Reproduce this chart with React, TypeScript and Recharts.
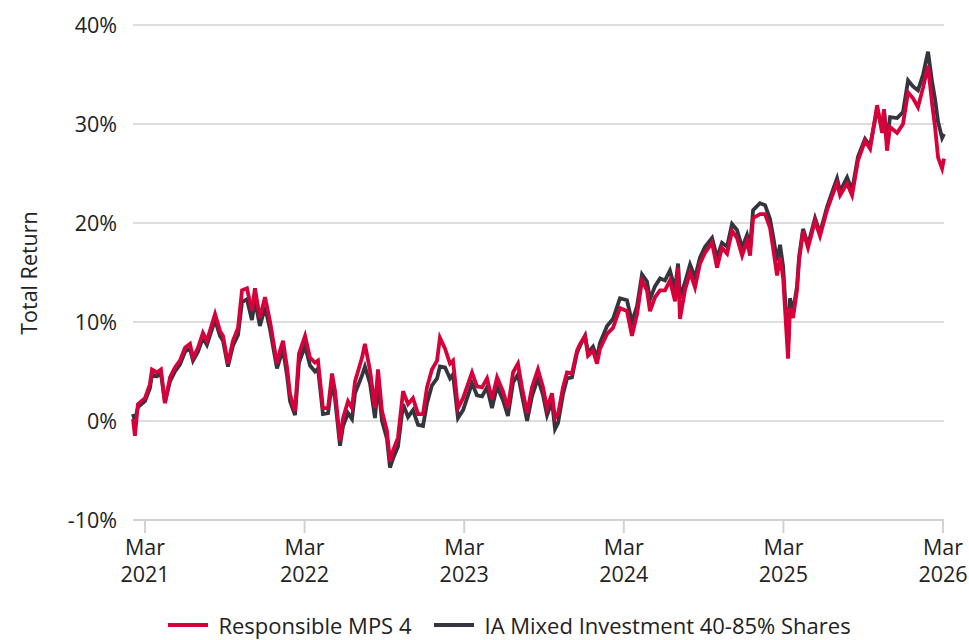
import { LineChart, Line, XAxis, YAxis, CartesianGrid, Legend, Label } from 'recharts';

// time as fractional years
const dates = [
  2021.092, 2021.104, 2021.123, 2021.167, 2021.198, 2021.211, 2021.242, 2021.267, 2021.292, 2021.324,
  2021.355, 2021.386, 2021.418, 2021.449, 2021.468, 2021.499, 2021.53, 2021.555, 2021.606, 2021.637,
  2021.656, 2021.687, 2021.718, 2021.75, 2021.775, 2021.806, 2021.837, 2021.856, 2021.887, 2021.919,
  2021.95, 2021.994, 2022.013, 2022.032, 2022.057, 2022.076, 2022.107, 2022.132, 2022.17, 2022.201,
  2022.232, 2022.251, 2022.282, 2022.314, 2022.339, 2022.358, 2022.389, 2022.408, 2022.439, 2022.464,
  2022.483, 2022.527, 2022.545, 2022.577, 2022.608, 2022.627, 2022.652, 2022.683, 2022.702, 2022.721,
  2022.752, 2022.784, 2022.815, 2022.846, 2022.878, 2022.909, 2022.934, 2022.965, 2022.997, 2023.015,
  2023.047, 2023.078, 2023.097, 2023.128, 2023.16, 2023.216, 2023.247, 2023.279, 2023.31, 2023.341,
  2023.373, 2023.41, 2023.441, 2023.473, 2023.504, 2023.529, 2023.561, 2023.592, 2023.629, 2023.661,
  2023.686, 2023.717, 2023.736, 2023.755, 2023.786, 2023.811, 2023.842, 2023.874, 2023.893, 2023.924,
  2023.943, 2023.974, 2023.999, 2024.018, 2024.062, 2024.099, 2024.143, 2024.187, 2024.218, 2024.25,
  2024.281, 2024.312, 2024.331, 2024.362, 2024.394, 2024.425, 2024.456, 2024.488, 2024.507, 2024.519,
  2024.55, 2024.582, 2024.613, 2024.644, 2024.676, 2024.72, 2024.751, 2024.782, 2024.814, 2024.845,
  2024.876, 2024.908, 2024.939, 2024.958, 2024.977, 2025.02, 2025.052, 2025.083, 2025.102, 2025.127,
  2025.146, 2025.165, 2025.196, 2025.208, 2025.227, 2025.252, 2025.265, 2025.29, 2025.321, 2025.365,
  2025.396, 2025.44, 2025.478, 2025.503, 2025.522, 2025.566, 2025.597, 2025.634, 2025.678, 2025.71,
  2025.754, 2025.785, 2025.797, 2025.816, 2025.835, 2025.879, 2025.916, 2025.948, 2025.979, 2026.01,
  2026.042, 2026.073, 2026.098, 2026.117, 2026.136, 2026.161, 2026.173,
];

const mps4 = [
  0.2, -1.5, 1.7, 2.3, 3.7, 5.2, 4.9, 5.2, 1.8, 4.4,
  5.4, 6.1, 7.4, 7.8, 6.4, 7.4, 8.9, 8.1, 10.8, 9.1,
  8.6, 5.8, 8.1, 9.4, 13.2, 13.4, 11.1, 13.4, 10.4, 12.5,
  10.1, 5.8, 7.1, 8.1, 5.4, 2.7, 1.0, 6.8, 8.6, 6.4,
  5.9, 6.1, 1.3, 1.3, 4.8, 3.0, -2.0, 0.3, 2.0, 1.3,
  4.0, 6.4, 7.8, 5.1, 1.3, 5.2, 1.0, -1.0, -4.1, -3.0,
  -1.7, 3.0, 1.7, 2.3, 0.7, 0.7, 3.4, 5.2, 6.1, 8.4,
  7.3, 5.8, 6.1, 1.3, 2.3, 4.9, 3.5, 3.4, 4.3, 2.2,
  4.4, 3.0, 1.3, 4.9, 5.8, 3.4, 0.8, 3.4, 5.2, 3.4,
  1.3, 2.8, 0.3, 0.7, 3.4, 4.9, 4.8, 7.1, 7.8, 8.6,
  6.6, 7.1, 5.8, 7.3, 8.8, 9.4, 11.4, 11.1, 8.6, 10.8,
  14.2, 13.2, 11.1, 12.5, 13.2, 13.2, 14.2, 12.1, 15.5, 10.3,
  13.2, 15.0, 13.5, 15.9, 17.0, 18.0, 15.5, 17.5, 16.9, 19.2,
  18.5, 16.7, 18.2, 16.7, 20.5, 20.9, 20.9, 19.5, 17.5, 14.7,
  16.5, 14.5, 6.3, 11.4, 10.4, 13.2, 16.2, 19.2, 17.5, 20.2,
  18.7, 21.3, 23.0, 24.0, 22.8, 24.0, 22.8, 26.3, 28.3, 27.5,
  31.9, 29.1, 31.5, 27.3, 29.7, 29.1, 30.0, 33.2, 32.6, 31.7,
  33.7, 35.9, 32.1, 29.7, 26.6, 25.5, 26.5,
];

const sector = [
  0.7, 0.0, 1.4, 2.0, 3.3, 4.7, 4.5, 4.8, 1.9, 4.0,
  5.0, 5.7, 7.0, 7.3, 6.1, 7.0, 8.4, 7.7, 10.2, 8.6,
  8.1, 5.5, 7.6, 8.7, 12.0, 12.3, 10.2, 12.2, 9.6, 11.5,
  9.3, 5.3, 6.3, 7.2, 4.6, 2.0, 0.6, 5.9, 7.6, 5.6,
  5.0, 5.3, 0.7, 0.8, 3.9, 2.2, -2.5, -0.5, 0.8, 0.2,
  2.8, 4.6, 5.5, 3.8, 0.3, 3.8, 0.0, -1.8, -4.7, -3.8,
  -2.6, 1.7, 0.4, 1.1, -0.4, -0.5, 1.8, 3.6, 4.3, 5.5,
  5.4, 4.3, 4.7, 0.3, 1.1, 3.8, 2.6, 2.5, 3.4, 1.3,
  3.5, 2.1, 0.5, 3.9, 4.7, 2.6, 0.0, 2.5, 4.3, 2.6,
  0.6, 2.0, -0.8, -0.2, 2.7, 4.3, 4.4, 6.9, 7.6, 8.6,
  6.9, 7.5, 6.4, 7.9, 9.6, 10.3, 12.4, 12.2, 10.0, 11.6,
  14.8, 14.1, 12.3, 13.6, 14.4, 14.2, 15.2, 13.3, 15.9, 12.4,
  14.0, 15.8, 14.5, 16.5, 17.6, 18.5, 16.5, 18.0, 17.6, 19.9,
  19.3, 17.5, 18.8, 17.6, 21.3, 22.0, 21.8, 20.4, 18.7, 16.2,
  17.8, 15.6, 7.5, 12.4, 11.0, 13.6, 16.6, 19.4, 17.8, 20.5,
  19.0, 21.6, 23.4, 24.5, 23.2, 24.6, 23.3, 26.7, 28.5, 27.8,
  31.5, 29.6, 31.4, 28.3, 30.7, 30.6, 31.2, 34.4, 33.8, 33.4,
  35.0, 37.3, 34.3, 32.5, 30.2, 28.6, 29.0,
];

const xTicks = [2021.167, 2022.167, 2023.167, 2024.167, 2025.167, 2026.167];
const yTicks = [-10, 0, 10, 20, 30, 40];

const RED = '#d6003a';
const DARK = '#34353f';
const GRID = '#d2d2d2';
const TEXT = '#222222';
const FONT = '"Open Sans", sans-serif';
const FS = 21.5;
const LEGEND_FS = 22;

const data = dates.map((t, i) => ({ t, mps4: mps4[i], sector: sector[i] }));

function MonthTick({ x, y, payload }: any) {
  return (
    <text x={x} y={y} textAnchor="middle" fill={TEXT} fontSize={FS} fontFamily={FONT}>
      <tspan x={x} dy={20}>Mar</tspan>
      <tspan x={x} dy={27}>{Math.floor(payload.value)}</tspan>
    </text>
  );
}

function LegendBox() {
  const item = (color: string, label: string) => (
    <div style={{ display: 'flex', alignItems: 'center', gap: 10 }}>
      <div style={{ width: 40, height: 4, background: color }} />
      <span>{label}</span>
    </div>
  );
  return (
    <div
      style={{
        width: 969,
        height: 40,
        boxSizing: 'border-box',
        paddingLeft: 50,
        paddingBottom: 4,
        display: 'flex',
        justifyContent: 'center',
        alignItems: 'flex-end',
        gap: 23,
        fontFamily: FONT,
        fontSize: LEGEND_FS,
        lineHeight: '22px',
        color: TEXT,
      }}
    >
      {item(RED, 'Responsible MPS 4')}
      {item(DARK, 'IA Mixed Investment 40-85% Shares')}
    </div>
  );
}

export default function App() {
  return (
    <div style={{ position: 'absolute', left: 0, top: 0, background: '#fff', fontFamily: FONT }}>
      <LineChart width={969} height={640} data={data} margin={{ top: 25, right: 25, bottom: 0, left: 0 }}>
        <CartesianGrid vertical={false} stroke={GRID} strokeWidth={1.5} />
        <XAxis
          dataKey="t"
          type="number"
          domain={[2021.092, 2026.173]}
          ticks={xTicks}
          interval={0}
          height={80}
          tick={<MonthTick />}
          tickSize={13}
          axisLine={{ stroke: GRID, strokeWidth: 2 }}
          tickLine={{ stroke: GRID, strokeWidth: 2 }}
        />
        <YAxis
          type="number"
          domain={[-10, 40]}
          ticks={yTicks}
          width={133}
          axisLine={false}
          tickLine={false}
          tickSize={0}
          tickMargin={16}
          tickFormatter={(v: number) => `${v}%`}
          tick={{ fill: TEXT, fontSize: FS, fontFamily: FONT }}
        >
          <Label
            content={() => (
              <text
                x={28}
                y={273}
                transform="rotate(-90 28 273)"
                textAnchor="middle"
                dominantBaseline="central"
                fill={TEXT}
                fontSize={FS}
                fontFamily={FONT}
              >
                Total Return
              </text>
            )}
          />
        </YAxis>
        <Legend verticalAlign="bottom" content={() => <LegendBox />} />
        <Line
          type="linear"
          dataKey="sector"
          stroke={DARK}
          strokeWidth={3.8}
          dot={false}
          isAnimationActive={false}
        />
        <Line
          type="linear"
          dataKey="mps4"
          stroke={RED}
          strokeWidth={3.8}
          dot={false}
          isAnimationActive={false}
        />
      </LineChart>
    </div>
  );
}
